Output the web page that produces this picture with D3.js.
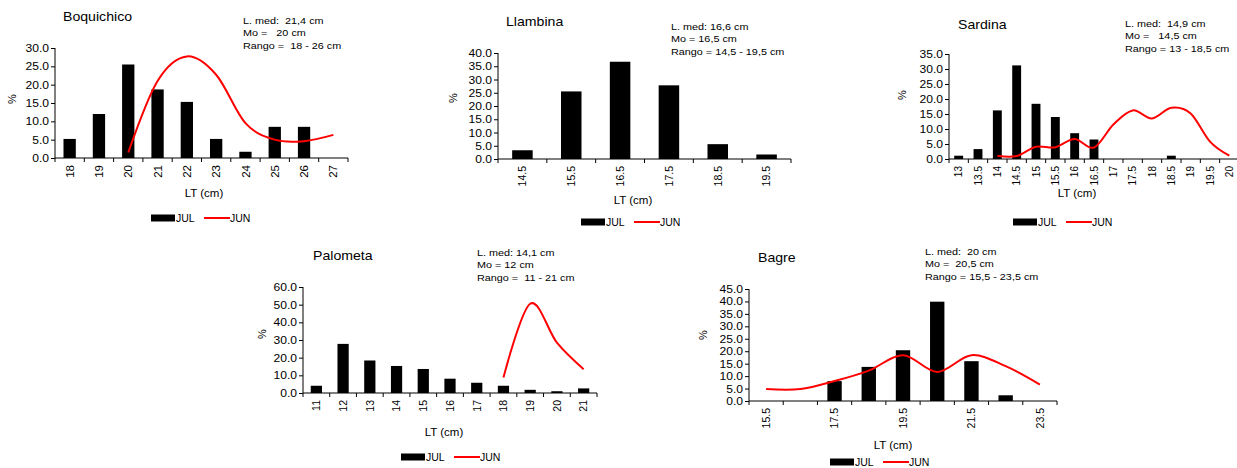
<!DOCTYPE html>
<html>
<head>
<meta charset="utf-8">
<script src="https://cdnjs.cloudflare.com/ajax/libs/d3/7.8.5/d3.min.js"></script>
<style>
  body { margin: 0; background: #fff; }
  text { font-family: "Liberation Sans", Arial, sans-serif; fill: #000; white-space: pre; }
</style>
</head>
<body>
<script>
// length-frequency data (% per LT class)

var boqCats = ["18", "19", "20", "21", "22", "23", "24", "25", "26", "27"];
var boqJul = [5.2, 12.0, 25.5, 18.7, 15.3, 5.2, 1.7, 8.5, 8.5, 0];
var boqJun = [null, null, 1.5, 21.0, 27.7, 22.7, 9.5, 5.0, 4.6, 6.3];
var boqInfo = ["L. med:  21,4 cm", "Mo =   20 cm", "Rango =  18 - 26 cm"];

var llaCats = ["14.5", "15.5", "16.5", "17.5", "18.5", "19.5"];
var llaJul = [3.3, 25.5, 36.7, 27.8, 5.6, 1.7];
var llaJun = [null, null, null, null, null, null];
var llaInfo = ["L. med: 16,6 cm", "Mo = 16,5 cm", "Rango = 14,5 - 19,5 cm"];

var sarCats = ["13", "13.5", "14", "14.5", "15", "15.5", "16", "16.5", "17", "17.5", "18", "18.5", "19", "19.5", "20"];
var sarJul = [1.1, 3.3, 16.2, 31.2, 18.4, 14.0, 8.6, 6.5, 0, 0, 0, 1.1, 0, 0, 0];
var sarJun = [null, null, 1.1, 1.0, 4.1, 3.9, 6.7, 3.8, 11.5, 16.2, 13.5, 17.1, 15.2, 5.8, 1.1];
var sarInfo = ["L. med:  14,9 cm", "Mo =   14,5 cm", "Rango = 13 - 18,5 cm"];

var palCats = ["11", "12", "13", "14", "15", "16", "17", "18", "19", "20", "21"];
var palJul = [4.1, 27.8, 18.4, 15.3, 13.6, 8.1, 5.8, 4.1, 1.8, 1.0, 2.6];
var palJun = [null, null, null, null, null, null, null, 8.8, 50.5, 28.5, 13.5];
var palInfo = ["L. med: 14,1 cm", "Mo = 12 cm", "Rango =  11 - 21 cm"];

var bagCats = ["15.5", "16.5", "17.5", "18.5", "19.5", "20.5", "21.5", "22.5", "23.5"];
var bagJul = [0, 0, 8.0, 13.7, 20.4, 39.9, 16.0, 2.3, 0];
var bagJun = [4.8, 4.8, 8.0, 12.2, 18.4, 11.7, 18.4, 14.0, 6.6];
var bagInfo = ["L. med:  20 cm", "Mo =  20,5 cm", "Rango = 15,5 - 23,5 cm"];

var svg = d3.select('body').append('svg')
            .attr('width', 1237)
            .attr('height', 468);

// text that is a bit wider than tall, like the original picture
var label = function(g, x, y, size, sx, str) {
  return g.append('text')
    .attr('transform', 'translate(' + x + ',' + y + ') scale(' + sx + ',1)')
    .style('font-size', size + 'px')
    .text(str);
};

var drawPanel = function(p) {
  var g = svg.append('g');

  var x = d3.scaleBand().domain(p.cats).range([p.x0, p.x1])
            .paddingInner(p.pad).paddingOuter(p.pad / 2);
  var y = d3.scaleLinear().domain([0, p.max]).range([p.yBot, p.yTop]);

  // bars (JUL)
  g.selectAll('rect.bar').data(p.jul.map(function(v, i) { return {c: p.cats[i], v: v}; }))
    .enter().append('rect')
    .attr('class', 'bar')
    .attr('x', function(d) { return x(d.c); })
    .attr('width', x.bandwidth())
    .attr('y', function(d) { return y(d.v); })
    .attr('height', function(d) { return p.yBot - y(d.v); })
    .attr('fill', '#000');

  // smoothed line (JUN)
  var pts = p.jun.map(function(v, i) { return {c: p.cats[i], v: v}; })
                 .filter(function(d) { return d.v !== null; });
  if (pts.length) {
    var line = d3.line()
      .x(function(d) { return x(d.c) + x.bandwidth() / 2; })
      .y(function(d) { return y(d.v); })
      .curve(d3.curveCardinal.tension(0));
    g.append('path').datum(pts)
      .attr('d', line)
      .attr('fill', 'none')
      .attr('stroke', '#f00')
      .attr('stroke-width', 2);
  }

  // y axis
  var yAxis = d3.axisLeft(y).tickValues(d3.range(0, p.max + 0.01, p.step))
                .tickFormat(d3.format('.1f')).tickSize(4).tickPadding(2);
  var ya = g.append('g').attr('transform', 'translate(' + p.x0 + ',0)').call(yAxis);
  ya.select('.domain').attr('d', 'M0,' + p.yTop + 'V' + p.yBot).attr('stroke', '#000');
  ya.selectAll('text').style('font-size', '11px')
    .attr('x', -6 / 1.1).attr('transform', 'scale(1.1,1)');

  // x axis: line + ticks between categories
  g.append('line').attr('x1', p.x0).attr('x2', p.x1).attr('y1', p.yBot).attr('y2', p.yBot)
    .attr('stroke', '#000');
  g.selectAll('line.xt').data(d3.range(p.cats.length + 1))
    .enter().append('line')
    .attr('x1', function(i) { return p.x0 + i * x.step(); })
    .attr('x2', function(i) { return p.x0 + i * x.step(); })
    .attr('y1', p.yBot).attr('y2', p.yBot + 4)
    .attr('stroke', '#000');
  g.selectAll('text.xl').data(p.cats.filter(function(c, i) { return i % p.every === 0; }))
    .enter().append('text')
    .attr('transform', function(c) {
      return 'translate(' + (x(c) + x.bandwidth() / 2 + p.xfs * 0.36) + ',' + (p.yBot + 7) + ') rotate(-90)';
    })
    .attr('text-anchor', 'end')
    .style('font-size', p.xfs + 'px')
    .text(function(c) { return c; });

  // axis titles
  g.append('text').attr('x', p.lx).attr('y', p.ly).attr('text-anchor', 'middle')
    .style('font-size', '11.5px').text('LT (cm)');
  g.append('text').attr('transform', 'translate(' + p.px + ',' + p.py + ') rotate(-90)')
    .attr('text-anchor', 'middle').style('font-size', '11px').text('%');

  // title + info
  label(g, p.tx, p.ty, 12.5, 1.13, p.title);
  p.info.forEach(function(d, i) {
    label(g, p.ix, p.iy + i * 12.3, 9.5, 1.14, d);
  });

  // legend
  g.append('rect').attr('x', p.gx).attr('y', p.gy - 3.5).attr('width', 24).attr('height', 7).attr('fill', '#000');
  g.append('text').attr('x', p.gx + 25).attr('y', p.gy + 4).style('font-size', '10.5px').text('JUL');
  g.append('line').attr('x1', p.gx + 53).attr('x2', p.gx + 79).attr('y1', p.gy).attr('y2', p.gy)
    .attr('stroke', '#f00').attr('stroke-width', 2);
  g.append('text').attr('x', p.gx + 79).attr('y', p.gy + 4).style('font-size', '10.5px').text('JUN');
};

drawPanel({title: 'Boquichico', cats: boqCats, jul: boqJul, jun: boqJun, info: boqInfo,
  x0: 55, x1: 348, yTop: 48, yBot: 158, max: 30, step: 5, pad: 0.58, every: 1, xfs: 11.5,
  tx: 63, ty: 21, ix: 243, iy: 24, lx: 204, ly: 197, px: 16, py: 99, gx: 151, gy: 218});

drawPanel({title: 'Llambina', cats: llaCats, jul: llaJul, jun: llaJun, info: llaInfo,
  x0: 498, x1: 791, yTop: 53, yBot: 159, max: 40, step: 5, pad: 0.58, every: 1, xfs: 10.5,
  tx: 506, ty: 26, ix: 671, iy: 30, lx: 633, ly: 204, px: 457, py: 98, gx: 581, gy: 222});

drawPanel({title: 'Sardina', cats: sarCats, jul: sarJul, jun: sarJun, info: sarInfo,
  x0: 949, x1: 1239, yTop: 54, yBot: 159, max: 35, step: 5, pad: 0.54, every: 1, xfs: 10,
  tx: 958, ty: 29, ix: 1125, iy: 27, lx: 1077, ly: 197, px: 906, py: 95, gx: 1013, gy: 222});

drawPanel({title: 'Palometa', cats: palCats, jul: palJul, jun: palJun, info: palInfo,
  x0: 303, x1: 597, yTop: 287, yBot: 393, max: 60, step: 10, pad: 0.58, every: 1, xfs: 10.5,
  tx: 313, ty: 260, ix: 477, iy: 256, lx: 444, ly: 436, px: 266, py: 334, gx: 401, gy: 457});

drawPanel({title: 'Bagre', cats: bagCats, jul: bagJul, jun: bagJun, info: bagInfo,
  x0: 749, x1: 1057, yTop: 289, yBot: 401, max: 45, step: 5, pad: 0.58, every: 2, xfs: 10.5,
  tx: 758, ty: 262, ix: 925, iy: 255, lx: 893, ly: 449, px: 707, py: 335, gx: 830, gy: 462});
</script>
</body>
</html>
